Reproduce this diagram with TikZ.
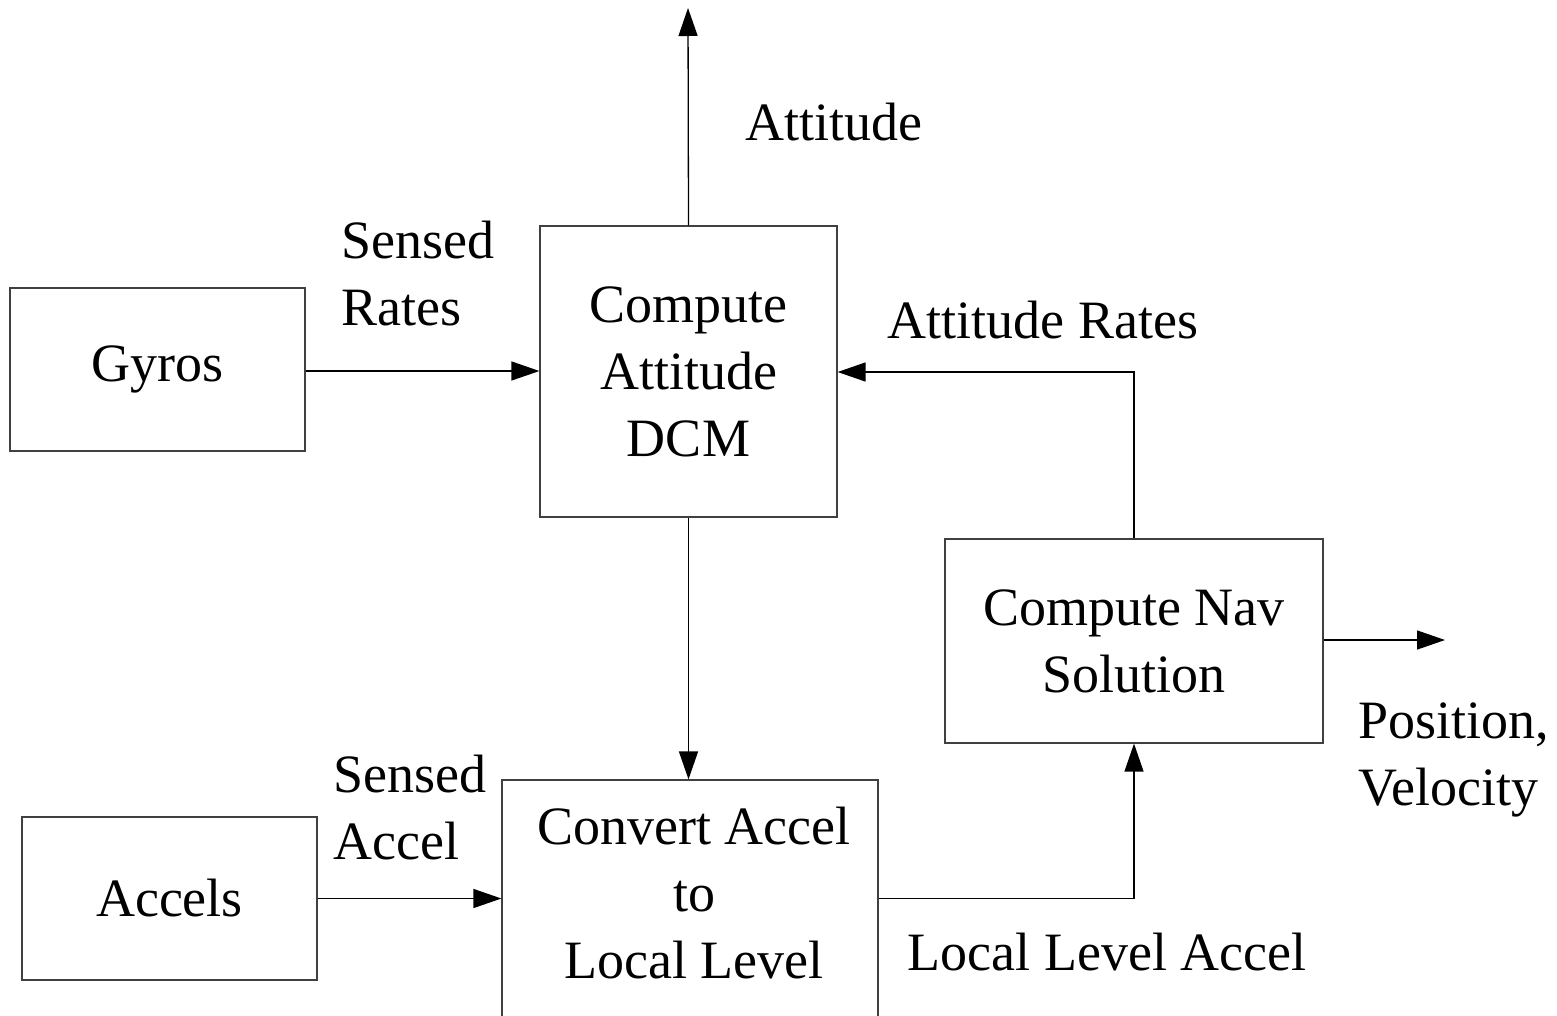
\documentclass[tikz,border=0pt]{standalone}
\usepackage{fontspec}
\setmainfont{Liberation Serif}
\usetikzlibrary{arrows.meta}
\begin{document}
\begin{tikzpicture}[x=1pt,y=-1pt,
  box/.style={draw=black!75,line width=1.2pt,inner sep=0pt,align=center,
    font=\fontsize{54}{67}\selectfont},
  txt/.style={inner sep=0pt,font=\fontsize{54}{67}\selectfont},
  conn/.style={draw=black,line width=1.3pt,-{Triangle[length=28pt,width=19pt]}},
  wire/.style={draw=black,line width=1.3pt}]
\useasboundingbox (0,0) rectangle (1557,1015);
\clip (0,0) rectangle (1557,1015);
% boxes
\node[box,minimum width=295pt,minimum height=163pt] (gyros) at (157.5,369.5) {\raisebox{-3pt}{Gyros}};
\node[box,minimum width=295pt,minimum height=163pt] (accels) at (169.5,898.5) {Accels};
\node[box,minimum width=297pt,minimum height=291pt] (dcm) at (688.5,371.5) {Compute\\Attitude\\DCM};
\node[box,minimum width=378pt,minimum height=204pt] (nav) at (1134,641) {Compute Nav\\Solution};
\node[box,minimum width=376pt,minimum height=320pt] (convbox) at (690,940) {};
\node[txt,align=center] (conv) at (694,893) {Convert Accel\\to\\Local Level};
% output coordinates
\coordinate (attout) at (688,8);
\coordinate (navout) at (1445,640);
% connectors
\draw[conn] (dcm.north) -- (attout);
\draw[conn] (gyros.east |- 0,371) -- (dcm.west |- 0,371);
\draw[conn] (accels.east) -- (convbox.west |- accels.east);
\draw[conn] (dcm.south) -- (convbox.north -| dcm.south);
\draw[conn] (nav.north) |- (dcm.east |- 0,372);
\draw[conn] (convbox.east |- accels.east) -| (nav.south);
\draw[conn] (nav.east |- navout) -- (navout);
% labels
\node[txt,anchor=base] (latt) at (834,140) {Attitude};
\node[txt,anchor=north west,align=left] (lsr) at (341,221) {Sensed\\Rates};
\node[txt,anchor=base] (lar) at (1043,338) {Attitude Rates};
\node[txt,anchor=north west,align=left] (lsa) at (333,755) {Sensed\\Accel};
\node[txt,anchor=base] (llla) at (1107,970) {Local Level Accel};
\node[txt,anchor=north west,align=left] (lpv) at (1358,703) {Position,\\Velocity};
\end{tikzpicture}
\end{document}
